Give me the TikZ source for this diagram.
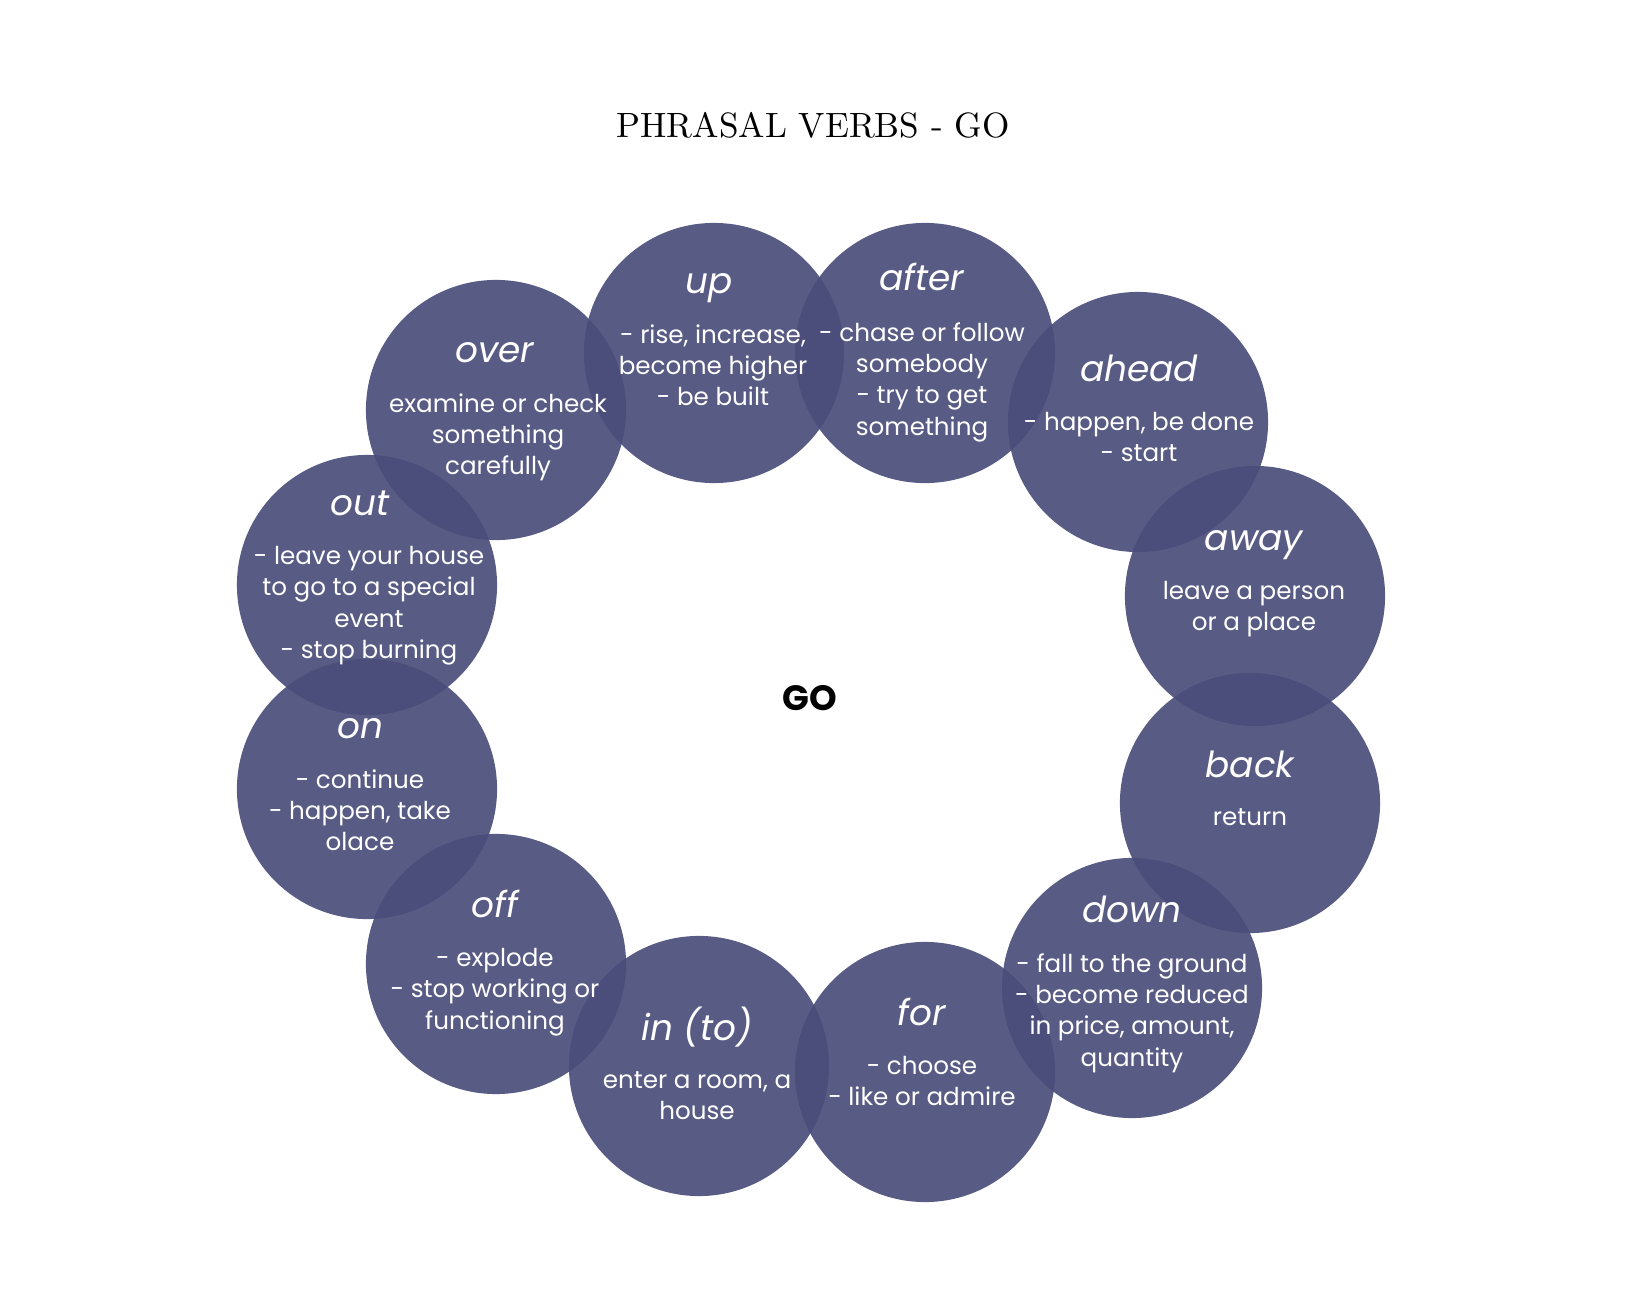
\documentclass[tikz,border=0pt]{standalone}
\usepackage{fontspec}
\usepackage{xcolor}
\newfontfamily\gothic{Poppins}
\usetikzlibrary{positioning}
\definecolor{bubblefill}{RGB}{74,77,121}

\begin{document}
\begin{tikzpicture}[
    x=0.01cm, y=-0.01cm,
    bubble/.style={circle, fill=bubblefill, fill opacity=0.92, minimum size=2.6cm, inner sep=0},
    head/.style={anchor=base, text=white, inner sep=0, text height=8pt, text depth=3pt,
      font=\gothic\itshape\fontsize{10.2}{12}\selectfont},
    meaning/.style={text=white, align=center, inner sep=0,
      font=\gothic\fontsize{7}{8.9}\selectfont},
    node distance=5.5pt
  ]
    \useasboundingbox (0,0) rectangle (1632,1312);
    \node[font=\fontsize{10}{12}\selectfont] (title) at (813,125) {PHRASAL VERBS - GO};
    \node[font=\gothic\bfseries\fontsize{10}{12}\selectfont] (go) at (810,698) {GO};
    % the ring of circles
    \node[bubble] (up) at (714,353) {};
    \node[bubble] (after) at (925,353) {};
    \node[bubble] (ahead) at (1138,422) {};
    \node[bubble] (away) at (1255,596) {};
    \node[bubble] (back) at (1250,803) {};
    \node[bubble] (down) at (1132,988) {};
    \node[bubble] (for) at (925,1072) {};
    \node[bubble] (into) at (699,1066) {};
    \node[bubble] (off) at (496,964) {};
    \node[bubble] (on) at (367,789) {};
    \node[bubble] (out) at (367,585) {};
    \node[bubble] (over) at (496,410) {};
    % words
    \node[head] (up-head) at (709,293) {up};
    \node[meaning, below=of up-head, xshift=0.04cm] (up-text) {- rise, increase,\\ become higher\\ - be built};
    \node[head] (after-head) at (922,291) {after};
    \node[meaning, below=of after-head] (after-text) {- chase or follow\\ somebody\\ - try to get\\ something};
    \node[head] (ahead-head) at (1139,381) {ahead};
    \node[meaning, below=of ahead-head] (ahead-text) {- happen, be done\\ - start};
    \node[head] (away-head) at (1254,550) {away};
    \node[meaning, below=of away-head] (away-text) {leave a person\\ or a place};
    \node[head] (back-head) at (1250,777) {back};
    \node[meaning, below=of back-head] (back-text) {return};
    \node[head] (down-head) at (1132,922) {down};
    \node[meaning, below=of down-head] (down-text) {- fall to the ground\\ - become reduced\\ in price, amount,\\ quantity};
    \node[head] (for-head) at (922,1025) {for};
    \node[meaning, below=of for-head] (for-text) {- choose\\ - like or admire};
    \node[head] (into-head) at (697,1040) {in (to)};
    \node[meaning, below=of into-head] (into-text) {enter a room, a\\ house};
    \node[head] (off-head) at (495,917) {off};
    \node[meaning, below=of off-head] (off-text) {- explode\\ - stop working or\\ functioning};
    \node[head] (on-head) at (360,738) {on};
    \node[meaning, below=of on-head] (on-text) {- continue\\ - happen, take\\ olace};
    \node[head] (out-head) at (360,515) {out};
    \node[meaning, below=of out-head, xshift=0.09cm] (out-text) {- leave your house\\ to go to a special\\ event\\ - stop burning};
    \node[head] (over-head) at (495,362) {over};
    \node[meaning, below=of over-head, xshift=0.03cm] (over-text) {examine or check\\ something\\ carefully};
\end{tikzpicture}
\end{document}
